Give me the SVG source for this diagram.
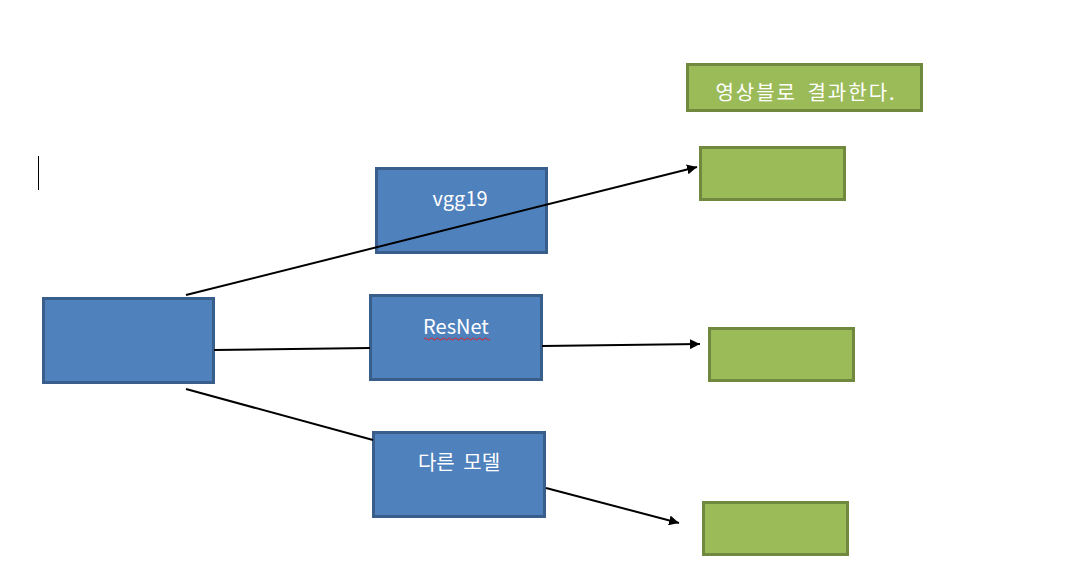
<svg xmlns="http://www.w3.org/2000/svg" width="1078" height="577" viewBox="0 0 1078 577">
<style>
.blue{fill:#4F81BD;stroke:#3A5E8C;stroke-width:3}
.green{fill:#9BBB59;stroke:#71893F;stroke-width:3}
.lbl{font-family:"Noto Sans CJK KR","Noto Sans",sans-serif;font-size:20px;fill:#FFFFFF;text-anchor:middle}
.conn{stroke:#000;stroke-width:2;fill:none}
</style>
<defs>
<marker id="arr" viewBox="0 0 10 10" refX="10" refY="5" markerWidth="5" markerHeight="5" orient="auto" markerUnits="strokeWidth">
<path d="M0,0 L10,5 L0,10 z" fill="#000"/>
</marker>
</defs>
<rect width="1078" height="577" fill="#FFFFFF"/>
<line x1="38.5" y1="156" x2="38.5" y2="190" stroke="#000" stroke-width="1"/>
<g id="node-main"><rect class="blue" x="43.5" y="298.5" width="170" height="84"/></g>
<g id="node-vgg19"><rect class="blue" x="376.5" y="168.5" width="170" height="84"/><text class="lbl" x="460" y="206">vgg19</text></g>
<g id="node-resnet"><rect class="blue" x="370.5" y="295.5" width="171" height="84"/><text class="lbl" x="456" y="334">ResNet</text>
<path d="M424,339 q1.5,-2 3,0 t3,0 t3,0 t3,0 t3,0 t3,0 t3,0 t3,0 t3,0 t3,0 t3,0 t3,0 t3,0 t3,0 t3,0 t3,0 t3,0 t3,0 t3,0 t3,0 t3,0 t3,0" stroke="#E02020" stroke-width="1" fill="none"/></g>
<g id="node-other"><rect class="blue" x="373.5" y="432.5" width="171" height="84"/><text class="lbl" x="459" y="470" word-spacing="4">다른 모델</text></g>
<g id="node-title"><rect class="green" x="687.5" y="64.5" width="234" height="46"/><text class="lbl" x="806" y="100" letter-spacing="2" word-spacing="4">영상블로 결과한다.</text></g>
<g id="node-out1"><rect class="green" x="700.5" y="147.5" width="144" height="52"/></g>
<g id="node-out2"><rect class="green" x="709.5" y="328.5" width="144" height="52"/></g>
<g id="node-out3"><rect class="green" x="703.5" y="502.5" width="144" height="52"/></g>
<g id="connectors">
<line class="conn" x1="186" y1="295" x2="697" y2="167" marker-end="url(#arr)"/>
<line class="conn" x1="214" y1="350" x2="370" y2="348"/>
<line class="conn" x1="542" y1="346" x2="700" y2="344" marker-end="url(#arr)"/>
<line class="conn" x1="186" y1="389" x2="373" y2="440"/>
<line class="conn" x1="546" y1="488" x2="679" y2="523" marker-end="url(#arr)"/>
</g>
</svg>
